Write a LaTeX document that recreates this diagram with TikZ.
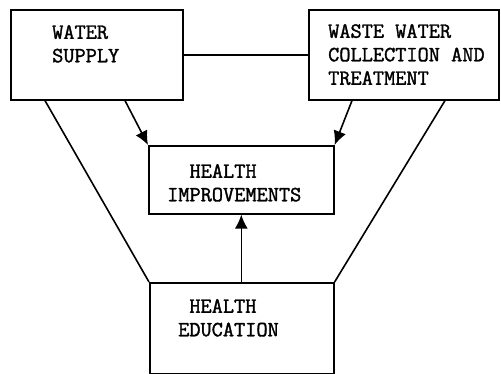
\documentclass[tikz,border=0pt]{standalone}
\usepackage{fontspec}
\setmonofont{Latin Modern Mono}[FakeBold=1.6]
\usetikzlibrary{positioning,arrows.meta}

\tikzset{
  box/.style={draw, line width=1.6pt, rectangle, inner sep=0pt, anchor=north west},
  lbl/.style={inner sep=0pt, anchor=north west, align=left, font=\ttfamily\fontsize{21.7}{23.5}\selectfont},
  tip/.style={-{Latex[length=14pt,width=13pt]}, line width=1.6pt}
}

\begin{document}
\begin{tikzpicture}[x=1pt,y=1pt]
\useasboundingbox (0,0) rectangle (501,374);
\node[box, minimum width=172pt, minimum height=90pt] (supply) at (10,365) {};
\node[box, minimum width=190pt, minimum height=90pt] (waste) at (308,365) {};
\node[box, minimum width=185pt, minimum height=68pt] (improve) at (148,229) {};
\node[box, minimum width=184pt, minimum height=91pt] (educ) at (149,92) {};

\node[lbl] (supplytext) at (52,349) {WATER\\SUPPLY};
\node[lbl] (wastetext) at (328,350) {WASTE WATER\\COLLECTION AND\\TREATMENT};
\node[lbl] (improvetext) at (167,210) {\phantom{XX}HEALTH\\IMPROVEMENTS};
\node[lbl] (eductext) at (178,75) {\phantom{X}HEALTH\\EDUCATION};

\draw[line width=1.6pt] (supply) -- (waste);
\draw[tip] ([xshift=115pt]supply.south west) -- (improve.north west);
\draw[tip] ([xshift=44pt]waste.south west) -- (improve.north east);
\draw[tip] (educ.north -| improve.south) -- (improve.south);
\draw[line width=1.6pt] ([xshift=35pt]supply.south west) -- (educ.north west);
\draw[line width=1.6pt] ([xshift=137pt]waste.south west) -- (educ.north east);
\end{tikzpicture}
\end{document}
